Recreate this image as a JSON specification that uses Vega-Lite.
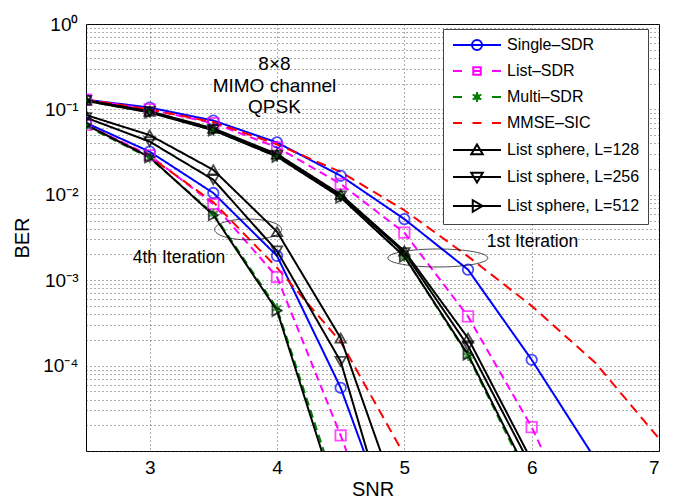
{
  "$schema": "https://vega.github.io/schema/vega-lite/v6.json",
  "width": 573,
  "height": 427,
  "autosize": {"type": "none"},
  "padding": {"left": 86, "top": 24, "right": 20, "bottom": 50},
  "background": "white",
  "config": {
    "font": "Liberation Sans",
    "view": {"stroke": "#000000", "strokeWidth": 1},
    "axis": {
      "domain": false,
      "ticks": false,
      "grid": true,
      "gridColor": "#333333",
      "gridDash": [1, 3],
      "gridWidth": 1,
      "gridOpacity": 0.8,
      "labelFont": "Liberation Sans",
      "labelFontSize": 19,
      "labelColor": "#000000",
      "titleFont": "Liberation Sans",
      "titleFontSize": 20,
      "titleFontWeight": "normal",
      "titleColor": "#000000",
      "labelOverlap": false
    }
  },
  "datasets": {
    "curves": [
      {"m": "Single–SDR", "it": "1st", "snr": 2.5, "ber": 0.13},
      {"m": "Single–SDR", "it": "1st", "snr": 3, "ber": 0.105},
      {"m": "Single–SDR", "it": "1st", "snr": 3.5, "ber": 0.074},
      {"m": "Single–SDR", "it": "1st", "snr": 4, "ber": 0.041},
      {"m": "Single–SDR", "it": "1st", "snr": 4.5, "ber": 0.0167},
      {"m": "Single–SDR", "it": "1st", "snr": 5, "ber": 0.0052},
      {"m": "Single–SDR", "it": "1st", "snr": 5.5, "ber": 0.00133},
      {"m": "Single–SDR", "it": "1st", "snr": 6, "ber": 0.000117},
      {"m": "Single–SDR", "it": "1st", "snr": 6.5, "ber": 8e-6},
      {"m": "Single–SDR", "it": "4th", "snr": 2.5, "ber": 0.0695},
      {"m": "Single–SDR", "it": "4th", "snr": 3, "ber": 0.032},
      {"m": "Single–SDR", "it": "4th", "snr": 3.5, "ber": 0.0105},
      {"m": "Single–SDR", "it": "4th", "snr": 4, "ber": 0.00193},
      {"m": "Single–SDR", "it": "4th", "snr": 4.5, "ber": 5.5e-5},
      {"m": "Single–SDR", "it": "4th", "snr": 5, "ber": 5e-7},
      {"m": "List–SDR", "it": "1st", "snr": 2.5, "ber": 0.13},
      {"m": "List–SDR", "it": "1st", "snr": 3, "ber": 0.1},
      {"m": "List–SDR", "it": "1st", "snr": 3.5, "ber": 0.069},
      {"m": "List–SDR", "it": "1st", "snr": 4, "ber": 0.036},
      {"m": "List–SDR", "it": "1st", "snr": 4.5, "ber": 0.0134},
      {"m": "List–SDR", "it": "1st", "snr": 5, "ber": 0.0036},
      {"m": "List–SDR", "it": "1st", "snr": 5.5, "ber": 0.000377},
      {"m": "List–SDR", "it": "1st", "snr": 6, "ber": 1.9e-5},
      {"m": "List–SDR", "it": "1st", "snr": 6.5, "ber": 5e-7},
      {"m": "List–SDR", "it": "4th", "snr": 2.5, "ber": 0.066},
      {"m": "List–SDR", "it": "4th", "snr": 3, "ber": 0.029},
      {"m": "List–SDR", "it": "4th", "snr": 3.5, "ber": 0.0078},
      {"m": "List–SDR", "it": "4th", "snr": 4, "ber": 0.00109},
      {"m": "List–SDR", "it": "4th", "snr": 4.5, "ber": 1.52e-5},
      {"m": "List–SDR", "it": "4th", "snr": 5, "ber": 1.5e-7},
      {"m": "Multi–SDR", "it": "1st", "snr": 2.5, "ber": 0.125},
      {"m": "Multi–SDR", "it": "1st", "snr": 3, "ber": 0.093},
      {"m": "Multi–SDR", "it": "1st", "snr": 3.5, "ber": 0.057},
      {"m": "Multi–SDR", "it": "1st", "snr": 4, "ber": 0.028},
      {"m": "Multi–SDR", "it": "1st", "snr": 4.5, "ber": 0.0094},
      {"m": "Multi–SDR", "it": "1st", "snr": 5, "ber": 0.0019},
      {"m": "Multi–SDR", "it": "1st", "snr": 5.5, "ber": 0.00013},
      {"m": "Multi–SDR", "it": "1st", "snr": 6, "ber": 4e-6},
      {"m": "Multi–SDR", "it": "4th", "snr": 2.5, "ber": 0.064},
      {"m": "Multi–SDR", "it": "4th", "snr": 3, "ber": 0.027},
      {"m": "Multi–SDR", "it": "4th", "snr": 3.5, "ber": 0.006},
      {"m": "Multi–SDR", "it": "4th", "snr": 4, "ber": 0.00047},
      {"m": "Multi–SDR", "it": "4th", "snr": 4.5, "ber": 2.5e-6},
      {"m": "MMSE–SIC", "it": "1st", "snr": 2.5, "ber": 0.13},
      {"m": "MMSE–SIC", "it": "1st", "snr": 3, "ber": 0.1},
      {"m": "MMSE–SIC", "it": "1st", "snr": 3.5, "ber": 0.071},
      {"m": "MMSE–SIC", "it": "1st", "snr": 4, "ber": 0.039},
      {"m": "MMSE–SIC", "it": "1st", "snr": 4.5, "ber": 0.0185},
      {"m": "MMSE–SIC", "it": "1st", "snr": 5, "ber": 0.0066},
      {"m": "MMSE–SIC", "it": "1st", "snr": 5.5, "ber": 0.0019},
      {"m": "MMSE–SIC", "it": "1st", "snr": 6, "ber": 0.0005},
      {"m": "MMSE–SIC", "it": "1st", "snr": 6.5, "ber": 0.000108},
      {"m": "MMSE–SIC", "it": "1st", "snr": 7, "ber": 1.4e-5},
      {"m": "MMSE–SIC", "it": "4th", "snr": 2.5, "ber": 0.066},
      {"m": "MMSE–SIC", "it": "4th", "snr": 3, "ber": 0.028},
      {"m": "MMSE–SIC", "it": "4th", "snr": 3.5, "ber": 0.0082},
      {"m": "MMSE–SIC", "it": "4th", "snr": 4, "ber": 0.0014},
      {"m": "MMSE–SIC", "it": "4th", "snr": 4.5, "ber": 0.00019},
      {"m": "MMSE–SIC", "it": "4th", "snr": 5, "ber": 9e-6},
      {"m": "List sphere, L=128", "it": "1st", "snr": 2.5, "ber": 0.128},
      {"m": "List sphere, L=128", "it": "1st", "snr": 3, "ber": 0.095},
      {"m": "List sphere, L=128", "it": "1st", "snr": 3.5, "ber": 0.06},
      {"m": "List sphere, L=128", "it": "1st", "snr": 4, "ber": 0.03},
      {"m": "List sphere, L=128", "it": "1st", "snr": 4.5, "ber": 0.0101},
      {"m": "List sphere, L=128", "it": "1st", "snr": 5, "ber": 0.0022},
      {"m": "List sphere, L=128", "it": "1st", "snr": 5.5, "ber": 0.00021},
      {"m": "List sphere, L=128", "it": "1st", "snr": 6, "ber": 7.7e-6},
      {"m": "List sphere, L=128", "it": "4th", "snr": 2.5, "ber": 0.086},
      {"m": "List sphere, L=128", "it": "4th", "snr": 3, "ber": 0.05},
      {"m": "List sphere, L=128", "it": "4th", "snr": 3.5, "ber": 0.0196},
      {"m": "List sphere, L=128", "it": "4th", "snr": 4, "ber": 0.0037},
      {"m": "List sphere, L=128", "it": "4th", "snr": 4.5, "ber": 0.00021},
      {"m": "List sphere, L=128", "it": "4th", "snr": 5, "ber": 1.6e-6},
      {"m": "List sphere, L=256", "it": "1st", "snr": 2.5, "ber": 0.127},
      {"m": "List sphere, L=256", "it": "1st", "snr": 3, "ber": 0.094},
      {"m": "List sphere, L=256", "it": "1st", "snr": 3.5, "ber": 0.058},
      {"m": "List sphere, L=256", "it": "1st", "snr": 4, "ber": 0.029},
      {"m": "List sphere, L=256", "it": "1st", "snr": 4.5, "ber": 0.0097},
      {"m": "List sphere, L=256", "it": "1st", "snr": 5, "ber": 0.0021},
      {"m": "List sphere, L=256", "it": "1st", "snr": 5.5, "ber": 0.00017},
      {"m": "List sphere, L=256", "it": "1st", "snr": 6, "ber": 6.4e-6},
      {"m": "List sphere, L=256", "it": "4th", "snr": 2.5, "ber": 0.08},
      {"m": "List sphere, L=256", "it": "4th", "snr": 3, "ber": 0.042},
      {"m": "List sphere, L=256", "it": "4th", "snr": 3.5, "ber": 0.015},
      {"m": "List sphere, L=256", "it": "4th", "snr": 4, "ber": 0.0022},
      {"m": "List sphere, L=256", "it": "4th", "snr": 4.5, "ber": 0.000112},
      {"m": "List sphere, L=256", "it": "4th", "snr": 5, "ber": 3.3e-7},
      {"m": "List sphere, L=512", "it": "1st", "snr": 2.5, "ber": 0.126},
      {"m": "List sphere, L=512", "it": "1st", "snr": 3, "ber": 0.092},
      {"m": "List sphere, L=512", "it": "1st", "snr": 3.5, "ber": 0.057},
      {"m": "List sphere, L=512", "it": "1st", "snr": 4, "ber": 0.028},
      {"m": "List sphere, L=512", "it": "1st", "snr": 4.5, "ber": 0.0093},
      {"m": "List sphere, L=512", "it": "1st", "snr": 5, "ber": 0.0019},
      {"m": "List sphere, L=512", "it": "1st", "snr": 5.5, "ber": 0.000135},
      {"m": "List sphere, L=512", "it": "1st", "snr": 6, "ber": 4.4e-6},
      {"m": "List sphere, L=512", "it": "4th", "snr": 2.5, "ber": 0.066},
      {"m": "List sphere, L=512", "it": "4th", "snr": 3, "ber": 0.0276},
      {"m": "List sphere, L=512", "it": "4th", "snr": 3.5, "ber": 0.0058},
      {"m": "List sphere, L=512", "it": "4th", "snr": 4, "ber": 0.00044},
      {"m": "List sphere, L=512", "it": "4th", "snr": 4.5, "ber": 2e-6}
    ],
    "legendrows": [
      {"m": "Single–SDR"},
      {"m": "List–SDR"},
      {"m": "Multi–SDR"},
      {"m": "MMSE–SIC"},
      {"m": "List sphere, L=128"},
      {"m": "List sphere, L=256"},
      {"m": "List sphere, L=512"}
    ],
    "notes": [
      {"x": 3.98, "y": 0.34, "t": "8×8", "s": 19},
      {"x": 3.98, "y": 0.188, "t": "MIMO channel", "s": 19},
      {"x": 3.98, "y": 0.107, "t": "QPSK", "s": 19},
      {"x": 3.23, "y": 0.00183, "t": "4th Iteration", "s": 17.5},
      {"x": 6.006, "y": 0.00282, "t": "1st Iteration", "s": 17.5}
    ]
  },
  "encoding": {
    "x": {
      "field": "snr", "type": "quantitative",
      "scale": {"domain": [2.5, 7], "nice": false, "zero": false},
      "axis": {"title": "SNR", "values": [3, 4, 5, 6, 7], "labelPadding": 7, "titlePadding": 2}
    },
    "y": {
      "field": "ber", "type": "quantitative",
      "scale": {"type": "log", "domain": [1e-5, 1], "nice": false},
      "axis": {
        "title": "BER",
        "titlePadding": 10,
        "labelPadding": 8,
        "values": [1e-5, 2e-5, 3e-5, 4e-5, 5e-5, 6e-5, 7e-5, 8e-5, 9e-5, 0.0001, 0.0002, 0.0003, 0.0004, 0.0005, 0.0006, 0.0007, 0.0008, 0.0009, 0.001, 0.002, 0.003, 0.004, 0.005, 0.006, 0.007, 0.008, 0.009, 0.01, 0.02, 0.03, 0.04, 0.05, 0.06, 0.07, 0.08, 0.09, 0.1, 0.2, 0.3, 0.4, 0.5, 0.6, 0.7, 0.8, 0.9, 1],
        "labelExpr": "datum.value == 1 ? '10⁰' : datum.value == 0.1 ? '10⁻¹' : datum.value == 0.01 ? '10⁻²' : datum.value == 0.001 ? '10⁻³' : datum.value == 0.0001 ? '10⁻⁴' : ''"
      }
    }
  },
  "layer": [
    {
      "data": {"name": "curves"},
      "mark": {"type": "line", "strokeWidth": 2, "clip": true},
      "encoding": {
        "color": {
          "field": "m", "type": "nominal",
          "scale": {
            "domain": ["Single–SDR", "List–SDR", "Multi–SDR", "MMSE–SIC", "List sphere, L=128", "List sphere, L=256", "List sphere, L=512"],
            "range": ["#0000ff", "#ff00ff", "#008000", "#ff0000", "#000000", "#000000", "#000000"]
          },
          "legend": null
        },
        "strokeDash": {
          "field": "m", "type": "nominal",
          "scale": {
            "domain": ["Single–SDR", "List–SDR", "Multi–SDR", "MMSE–SIC", "List sphere, L=128", "List sphere, L=256", "List sphere, L=512"],
            "range": [[1, 0], [8, 5], [8, 5], [10, 6], [1, 0], [1, 0], [1, 0]]
          },
          "legend": null
        },
        "detail": {"field": "it", "type": "nominal"}
      }
    },
    {
      "data": {"name": "curves"},
      "transform": [{"filter": "datum.m !== 'MMSE–SIC'"}],
      "mark": {"type": "point", "filled": false, "strokeWidth": 1.8, "size": 110, "clip": true},
      "encoding": {
        "color": {"field": "m", "type": "nominal", "legend": null},
        "shape": {
          "field": "m", "type": "nominal",
          "scale": {
            "domain": ["Single–SDR", "List–SDR", "Multi–SDR", "MMSE–SIC", "List sphere, L=128", "List sphere, L=256", "List sphere, L=512"],
            "range": ["circle", "square", "M0,-1V1M-0.87,-0.5L0.87,0.5M-0.87,0.5L0.87,-0.5M0.4,0A0.4,0.4 0 1,1 -0.4,0A0.4,0.4 0 1,1 0.4,0Z", "circle", "triangle-up", "triangle-down", "triangle-right"]
          },
          "legend": null
        }
      }
    },
    {
      "data": {"name": "legendrows"},
      "mark": {"type": "point", "filled": false, "strokeWidth": 2, "size": 100, "opacity": 0},
      "encoding": {
        "x": {"datum": 3},
        "y": {"datum": 0.5},
        "color": {"field": "m", "type": "nominal", "legend": null},
        "shape": {
          "field": "m", "type": "nominal",
          "scale": {
            "domain": ["Single–SDR", "List–SDR", "Multi–SDR", "MMSE–SIC", "List sphere, L=128", "List sphere, L=256", "List sphere, L=512"],
            "range": [
              "M-4.8,0H4.8M1,0A1,1 0 1,1 -1,0A1,1 0 1,1 1,0Z",
              "M-4.8,0H-3M3,0H4.8M-0.75,-0.75H0.75V0.75H-0.75ZM-0.75,0H0.75",
              "M-4.8,0H-3M3,0H4.8M0,-1V1M-0.87,-0.5L0.87,0.5M-0.87,0.5L0.87,-0.5M0.4,0A0.4,0.4 0 1,1 -0.4,0A0.4,0.4 0 1,1 0.4,0Z",
              "M-4.8,0H-3M-0.9,0H0.9M3,0H4.8",
              "M-4.8,0H4.8M0,-1.1L1.15,0.85H-1.15Z",
              "M-4.8,0H4.8M0,1.1L1.15,-0.85H-1.15Z",
              "M-4.8,0H4.8M1.1,0L-0.85,1.15V-1.15Z"
            ]
          },
          "legend": {
            "title": null,
            "orient": "none",
            "legendX": 357,
            "legendY": 5,
            "padding": 8,
            "strokeColor": "#444444",
            "fillColor": "white",
            "cornerRadius": 0,
            "symbolSize": 100,
            "symbolStrokeWidth": 2,
            "symbolOpacity": 1,
            "symbolFillColor": "transparent",
            "symbolStrokeColor": {"expr": "datum.value === 'Single–SDR' ? '#0000ff' : datum.value === 'List–SDR' ? '#ff00ff' : datum.value === 'Multi–SDR' ? '#008000' : datum.value === 'MMSE–SIC' ? '#ff0000' : '#000000'"},
            "symbolOffset": 18,
            "labelOffset": 22,
            "rowPadding": 9,
            "labelFont": "Liberation Sans",
            "labelFontSize": 16,
            "labelColor": "#000000",
            "labelLimit": 300
          }
        }
      }
    },
    {
      "data": {"values": [{"snr": 3.773, "ber": 0.00393}]},
      "mark": {"type": "point", "shape": "M-1,0A1,0.31 0 1,0 1,0A1,0.31 0 1,0 -1,0Z", "size": 4489, "color": "#000000", "strokeWidth": 1, "filled": false}
    },
    {
      "data": {"values": [{"snr": 5.263, "ber": 0.00182}]},
      "mark": {"type": "point", "shape": "M-1,0A1,0.18 0 1,0 1,0A1,0.18 0 1,0 -1,0Z", "size": 10000, "color": "#000000", "strokeWidth": 1, "filled": false}
    },
    {
      "data": {"name": "notes"},
      "mark": {"type": "text", "font": "Liberation Sans", "color": "#000000", "align": "center", "baseline": "middle"},
      "encoding": {
        "x": {"field": "x", "type": "quantitative"},
        "y": {"field": "y", "type": "quantitative"},
        "text": {"field": "t"},
        "size": {"field": "s", "type": "quantitative", "scale": null}
      }
    }
  ],
  "resolve": {"scale": {"shape": "independent"}, "legend": {"shape": "independent"}}
}
